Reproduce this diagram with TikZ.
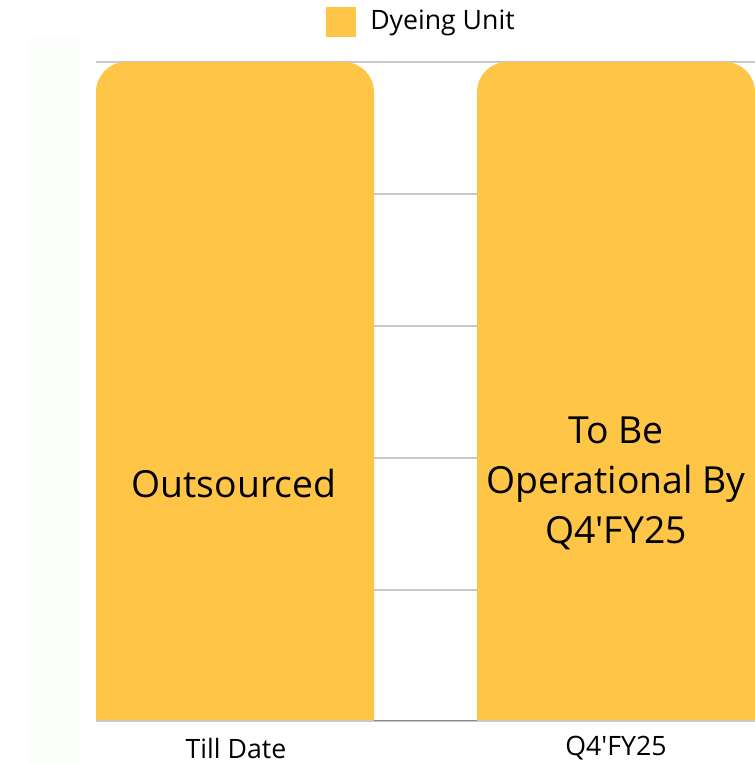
\documentclass[tikz,border=0pt]{standalone}
\usepackage{fontspec}
\setmainfont{Open Sans}
\definecolor{barfill}{HTML}{FEC547}
\definecolor{gridgray}{HTML}{C8C8C8}
\definecolor{axisgray}{HTML}{8A8A8A}
\definecolor{panel}{HTML}{FCFEFB}
\tikzset{
  gridline/.style={draw=gridgray, line width=0.9pt},
  barlabel/.style={font=\fontsize{28}{37.5}\selectfont, align=center, text=black},
  axislabel/.style={font=\fontsize{20}{24}\selectfont, text=black},
}
\begin{document}
\begin{tikzpicture}[x=0.75pt, y=-0.75pt]
\useasboundingbox (0,0) rectangle (755,765);
\fill[white] (0,0) rectangle (755,765);
% faint side panel
\fill[panel] (28,36) rectangle (80,765);
% grid lines
\foreach \gy in {62,194,326,458,590}
  \draw[gridline] (96,\gy) -- (755,\gy);
% bars with rounded top corners (y axis points down, so 270 is up)
\fill[barfill] (96,721) -- (96,92) arc[start angle=180, end angle=270, radius=30] -- (344,62) arc[start angle=270, end angle=360, radius=30] -- (374,721) -- cycle;
\fill[barfill] (477,721) -- (477,92) arc[start angle=180, end angle=270, radius=30] -- (725,62) arc[start angle=270, end angle=360, radius=30] -- (755,721) -- cycle;
% baseline
\draw[draw=gridgray, line width=1.2pt] (96,721) -- (755,721);
\draw[draw=axisgray, line width=1.2pt] (374,720.5) -- (477,720.5);
% bar labels
\node[barlabel] (outs) at (234,483) {Outsourced};
\node[barlabel] (oper) at (616,483.5) {To Be\\Operational By\\Q4\textquotesingle FY25};
% category labels
\node[axislabel] (cat1) at (236,748) {Till Date};
\node[axislabel] (cat2) at (616,748) {Q4\textquotesingle FY25};
% legend
\fill[barfill] (326,7) rectangle (356,37);
\node[axislabel, anchor=west, inner sep=0pt] (leg) at (370,23) {Dyeing Unit};
\end{tikzpicture}
\end{document}
